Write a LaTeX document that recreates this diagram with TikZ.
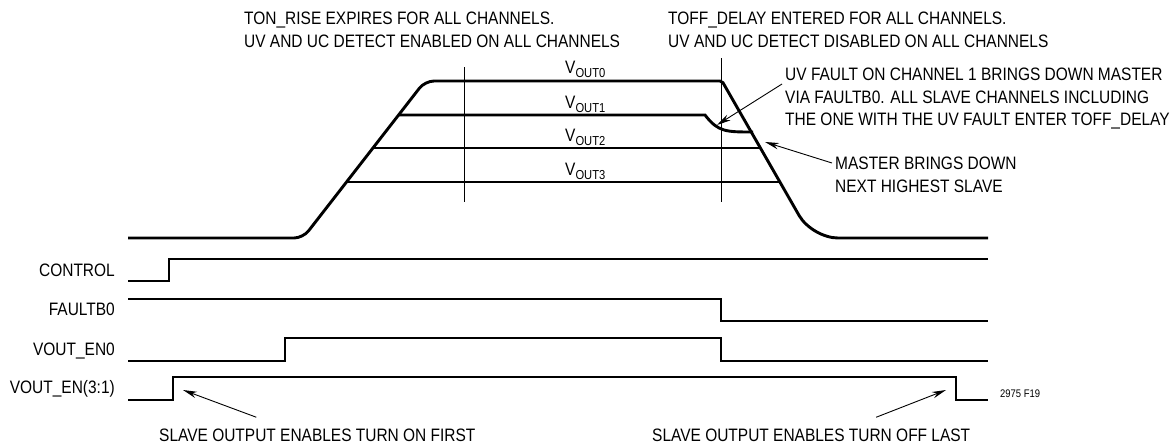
\documentclass[tikz,border=0pt]{standalone}
\usepackage{fontspec}
\setmainfont[FakeStretch=0.86]{Liberation Sans}
\usepackage{tikz}
\usetikzlibrary{arrows.meta, positioning, calc}

\newcommand{\vsub}[1]{V\raisebox{-4pt}{\fontsize{13}{13}\selectfont #1}}

\begin{document}
\begin{tikzpicture}[x=1pt, y=-1pt,
    wave/.style={line width=2.9pt},
    marker/.style={line width=0.9pt},
    note/.style={font=\fontsize{18}{22.5}\selectfont, inner sep=0pt, align=left},
    sig/.style={font=\fontsize{18}{22.5}\selectfont, inner sep=0pt, anchor=base east},
    vlab/.style={font=\fontsize{18}{22.5}\selectfont, inner sep=0pt, anchor=base west},
    pointer/.style={line width=0.9pt, -{Stealth[length=14pt, width=6.5pt]}}]
      \useasboundingbox (0,0) rectangle (1174,445);

      % Output voltages
      \draw[wave] (128,238) [rounded corners=9pt] -- (303,238) -- (425,81)
        [rounded corners=2pt] -- (722,81) [rounded corners=26pt] -- (812,238) -- (988,238);
      \draw[wave] (398,115) -- (705,115) .. controls (718,132) and (726,132) .. (753,132);
      \draw[wave] (373,148) -- (760,148);
      \draw[wave] (347,182) -- (780,182);

      \node[vlab] (v0) at (565,73) {\vsub{OUT0}};
      \node[vlab] (v1) at (565,108) {\vsub{OUT1}};
      \node[vlab] (v2) at (565,141) {\vsub{OUT2}};
      \node[vlab] (v3) at (565,175) {\vsub{OUT3}};

      % Markers
      \draw[marker] (464,67) -- (464,202);
      \draw[marker] (721,58) -- (721,202);

      % Control signals
      \draw[wave] (128,281) -- (169,281) -- (169,259) -- (988,259);
      \draw[wave] (128,299) -- (721,299) -- (721,321) -- (988,321);
      \draw[wave] (128,361) -- (285,361) -- (285,338) -- (721,338) -- (721,361) -- (988,361);
      \draw[wave] (128,400) -- (173,400) -- (173,377) -- (956,377) -- (956,400) -- (988,400);

      \node[sig] (ctrl) at (115,276) {CONTROL};
      \node[sig] (fault) at (115,315) {FAULTB0};
      \node[sig] (en0) at (115,355) {VOUT\_EN0};
      \node[sig] (en31) at (115,393) {VOUT\_EN(3:1)};

      % Notes
      \node[note, anchor=north west] (ton) at (244,12)
        {TON\_RISE EXPIRES FOR ALL CHANNELS.\\UV AND UC DETECT ENABLED ON ALL CHANNELS};
      \node[note, anchor=north west] (toff) at (668,12)
        {TOFF\_DELAY ENTERED FOR ALL CHANNELS.\\UV AND UC DETECT DISABLED ON ALL CHANNELS};
      \node[note, anchor=north west] (uvfault) at (785,68)
        {UV FAULT ON CHANNEL 1 BRINGS DOWN MASTER\\VIA FAULTB0. ALL SLAVE CHANNELS INCLUDING\\THE ONE WITH THE UV FAULT ENTER TOFF\_DELAY};
      \node[note, anchor=north west] (master) at (835,157)
        {MASTER BRINGS DOWN\\NEXT HIGHEST SLAVE};
      \node[note, anchor=base west] (slaveon) at (159,441) {SLAVE OUTPUT ENABLES TURN ON FIRST};
      \node[note, anchor=base west] (slaveoff) at (652,441) {SLAVE OUTPUT ENABLES TURN OFF LAST};
      \node[font=\fontsize{11}{13}\selectfont, inner sep=0pt, anchor=base west] (fig) at (1000,397) {2975 F19};

      \coordinate (uvtip) at (717,125);
      \coordinate (mastertip) at (765,142);
      \coordinate (ontip) at (183,390);
      \coordinate (offtip) at (946,390);

      \draw[pointer] ($(uvfault.north west)+(-3,16)$) -- (uvtip);
      \draw[pointer] ($(master.north west)+(-3,6)$) -- (mastertip);
      \draw[pointer] ($(slaveon.north)+(-61,-11)$) -- (ontip);
      \draw[pointer] ($(slaveoff.north)+(65,-11)$) -- (offtip);
    \end{tikzpicture}
\end{document}
